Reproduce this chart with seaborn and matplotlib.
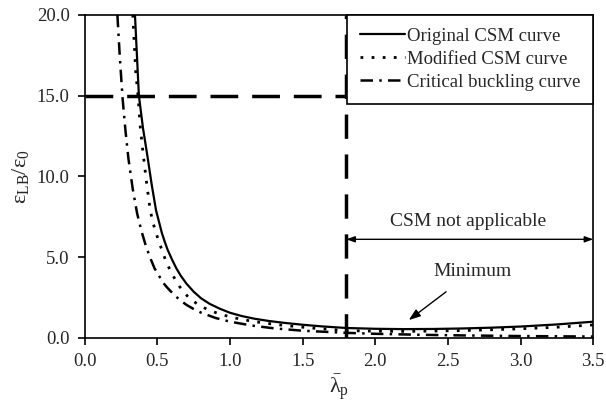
import matplotlib
matplotlib.use("Agg")
import matplotlib.pyplot as plt
import seaborn as sns

# values
orig_x = [0.345, 0.372, 0.40, 0.43, 0.46, 0.49, 0.51, 0.53, 0.55, 0.57, 0.60, 0.63, 0.66,
          0.70, 0.75, 0.80, 0.86, 0.93, 1.0, 1.08, 1.17, 1.27, 1.38, 1.5, 1.63, 1.8,
          2.0, 2.2, 2.4, 2.6, 2.8, 3.0, 3.25, 3.5]
orig_y = [20.0, 15.0, 13.0, 11.3, 9.5, 7.9, 7.2, 6.5, 5.95, 5.45, 4.85, 4.3, 3.85,
          3.35, 2.85, 2.45, 2.1, 1.8, 1.55, 1.35, 1.18, 1.04, 0.92, 0.81, 0.71, 0.61,
          0.56, 0.54, 0.55, 0.58, 0.63, 0.7, 0.83, 1.0]

mod_x = [0.33, 0.35, 0.366, 0.38, 0.40, 0.425, 0.45, 0.47, 0.49, 0.51, 0.53, 0.56, 0.60,
         0.65, 0.71, 0.78, 0.85, 0.92, 1.0, 1.08, 1.17, 1.27, 1.345, 1.45, 1.57, 1.69,
         1.8, 2.0, 2.2, 2.4, 2.6, 2.8, 3.0, 3.25, 3.5]
mod_y = [20.0, 16.5, 15.0, 13.2, 11.5, 9.6, 7.9, 7.1, 6.5, 5.95, 5.45, 4.7, 3.95,
         3.2, 2.54, 2.05, 1.73, 1.5, 1.3, 1.14, 1.0, 0.88, 0.8, 0.7, 0.6, 0.52,
         0.45, 0.41, 0.40, 0.42, 0.45, 0.5, 0.56, 0.66, 0.8]

crit_x = [0.224, 0.24, 0.26, 0.28, 0.30, 0.33, 0.36, 0.39, 0.42, 0.45, 0.48, 0.51, 0.54,
          0.57, 0.6, 0.65, 0.7, 0.75, 0.8, 0.9, 1.0, 1.15, 1.3, 1.5, 1.8, 2.0, 2.3,
          2.6, 3.0, 3.5]
crit_y = [20.0, 17.5, 14.8, 12.8, 11.1, 9.2, 7.7, 6.6, 5.7, 4.95, 4.3, 3.85, 3.4,
          3.08, 2.8, 2.37, 2.04, 1.78, 1.56, 1.23, 1.0, 0.76, 0.59, 0.44, 0.31, 0.25, 0.19,
          0.15, 0.11, 0.08]

limit_lambda = 1.8
limit_strain = 15.0
x_ticks = [0.0, 0.5, 1.0, 1.5, 2.0, 2.5, 3.0, 3.5]
y_ticks = [0.0, 5.0, 10.0, 15.0, 20.0]

sns.set_style("ticks")
plt.rcParams["font.family"] = ["Liberation Serif", "DejaVu Serif"]
plt.rcParams["mathtext.fontset"] = "custom"
plt.rcParams["mathtext.rm"] = "Liberation Serif"
plt.rcParams["mathtext.default"] = "regular"

fig = plt.figure(figsize=(6.06, 4.11), dpi=100)
ax = fig.add_axes([0.140, 0.178, 0.839, 0.786])

sns.lineplot(x=orig_x, y=orig_y, ax=ax, color="black", lw=1.6,
             label="Original CSM curve")
sns.lineplot(x=mod_x, y=mod_y, ax=ax, color="black", lw=2.0,
             linestyle=(0, (1, 3)), label="Modified CSM curve")
sns.lineplot(x=crit_x, y=crit_y, ax=ax, color="black", lw=1.8,
             linestyle=(0, (5, 2.5, 1, 2.5)), label="Critical buckling curve")

ax.plot([0, limit_lambda], [limit_strain, limit_strain], color="black", lw=2.5,
        linestyle=(0, (8, 4)))
ax.plot([limit_lambda, limit_lambda], [0, 20], color="black", lw=2.5,
        linestyle=(0, (7, 4.5)))

ax.annotate("", xy=(3.5, 6.1), xytext=(limit_lambda, 6.1),
            arrowprops=dict(arrowstyle="<|-|>,head_length=0.5,head_width=0.18",
                            color="black", lw=1.0, shrinkA=0, shrinkB=0))
ax.text(2.64, 7.2, "CSM not applicable", ha="center", va="center", fontsize=14)

ax.annotate("Minimum", xy=(2.23, 1.1), xytext=(2.67, 4.1), ha="center", va="center",
            fontsize=14,
            arrowprops=dict(arrowstyle="-|>,head_length=0.5,head_width=0.18",
                            color="black", lw=1.0, shrinkA=10, shrinkB=0))

ax.set_xlim(0, 3.5)
ax.set_ylim(0, 20)
ax.set_xticks(x_ticks)
ax.set_yticks(y_ticks)
ax.set_xticklabels([f"{v:.1f}" for v in x_ticks], fontsize=13.5)
ax.set_yticklabels([f"{v:.1f}" for v in y_ticks], fontsize=13.5)
ax.tick_params(direction="out", length=5, width=1.2, color="black", pad=6)
for s in ax.spines.values():
    s.set_visible(True)
    s.set_color("black")
    s.set_linewidth(1.2)

ax.set_xlabel(r"$\bar{\lambda}_p$", fontsize=16, labelpad=2)
ax.set_ylabel(r"$\varepsilon_{LB}/\varepsilon_0$", fontsize=16, labelpad=4)

leg = ax.legend(loc="upper right", borderaxespad=0, fontsize=13.5, frameon=True,
                fancybox=False, framealpha=1, edgecolor="black", handlelength=2.4,
                handletextpad=0.1, borderpad=0.7, labelspacing=0.3)
leg.get_frame().set_linewidth(1.2)

fig.savefig("out.png", dpi=100)
